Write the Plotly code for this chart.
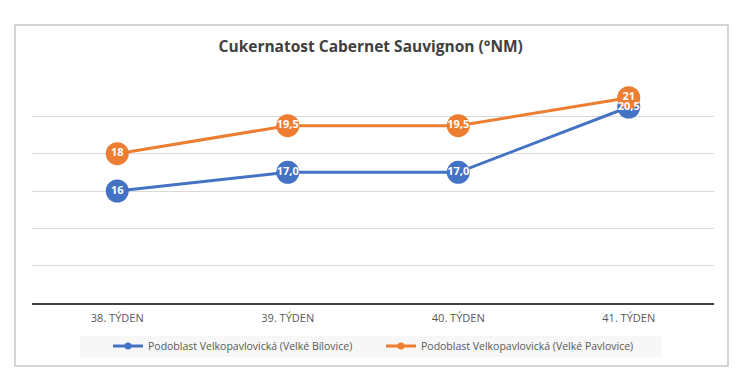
import plotly.graph_objects as go

categories = ["38. TÝDEN", "39. TÝDEN", "40. TÝDEN", "41. TÝDEN"]
bilovice = [16, 17.0, 17.0, 20.5]
pavlovice = [18, 19.5, 19.5, 21]
bilovice_labels = ["16", "17,0", "17,0", "20,5"]
pavlovice_labels = ["18", "19,5", "19,5", "21"]
name_b = "Podoblast Velkopavlovická (Velké Bílovice)"
name_p = "Podoblast Velkopavlovická (Velké Pavlovice)"

BLUE = "#4472C4"
ORANGE = "#ED7D31"
FONT = "Open Sans"

W, H = 748, 382
L, R, T, B = 32, 714, 79, 303


def px(x):
    return (x - L) / (R - L)


def py(y):
    return (B - y) / (B - T)


fig = go.Figure()
for name, vals, color in ((name_b, bilovice, BLUE), (name_p, pavlovice, ORANGE)):
    fig.add_trace(go.Scatter(
        x=categories, y=vals, name=name, mode="lines+markers", showlegend=False,
        line=dict(color=color, width=3),
        marker=dict(size=23, color=color),
    ))
for vals, labs in ((bilovice, bilovice_labels), (pavlovice, pavlovice_labels)):
    fig.add_trace(go.Scatter(
        x=categories, y=vals, mode="text", text=labs, showlegend=False,
        textfont=dict(family=FONT, size=11, color="white", weight="bold"),
        textposition="middle center", hoverinfo="skip",
    ))
# legend entries (small markers as in the reference legend)
for name, color in ((name_b, BLUE), (name_p, ORANGE)):
    fig.add_trace(go.Scatter(
        x=[None], y=[None], name=name, mode="lines+markers",
        line=dict(color=color, width=3), marker=dict(size=7, color=color),
    ))

fig.update_layout(
    width=W, height=H,
    margin=dict(l=L, r=W - R, t=T, b=H - B),
    paper_bgcolor="white", plot_bgcolor="white",
    title=dict(
        text="<b>Cukernatost Cabernet Sauvignon (°NM)</b>",
        font=dict(family=FONT, size=15.5, color="#404040"),
        x=371.5 / W, xanchor="center", xref="paper",
        y=1 - 47 / H, yanchor="middle", yref="container",
    ),
    showlegend=True,
    legend=dict(
        orientation="h", x=px(108), xanchor="left", y=py(346), yanchor="middle",
        bgcolor="rgba(0,0,0,0)", font=dict(family=FONT, size=10.5, color="#595959"),
        entrywidth=228, entrywidthmode="pixels",
    ),
    xaxis=dict(
        type="category", range=[-0.5, 3.5], showgrid=False,
        showline=True, linecolor="#404040", linewidth=2,
        ticks="", tickfont=dict(family=FONT, size=11, color="#595959"),
        ticklabelstandoff=4, fixedrange=True,
    ),
    yaxis=dict(
        range=[10, 22], dtick=2, showgrid=True, gridcolor="#d9d9d9", gridwidth=1,
        showticklabels=False, zeroline=False, showline=False, ticks="",
    ),
    shapes=[
        dict(type="rect", xref="paper", yref="paper",
             x0=px(15), x1=px(728), y0=py(366), y1=py(25),
             line=dict(color="#c8c8c8", width=1.5), fillcolor="rgba(0,0,0,0)", layer="below"),
        dict(type="rect", xref="paper", yref="paper",
             x0=px(80), x1=px(662), y0=py(357), y1=py(336),
             line=dict(width=0), fillcolor="#f7f7f7", layer="below"),
    ],
)

fig.write_html("out.html", config={"displayModeBar": False},
               post_script="document.body.style.margin='0';")
